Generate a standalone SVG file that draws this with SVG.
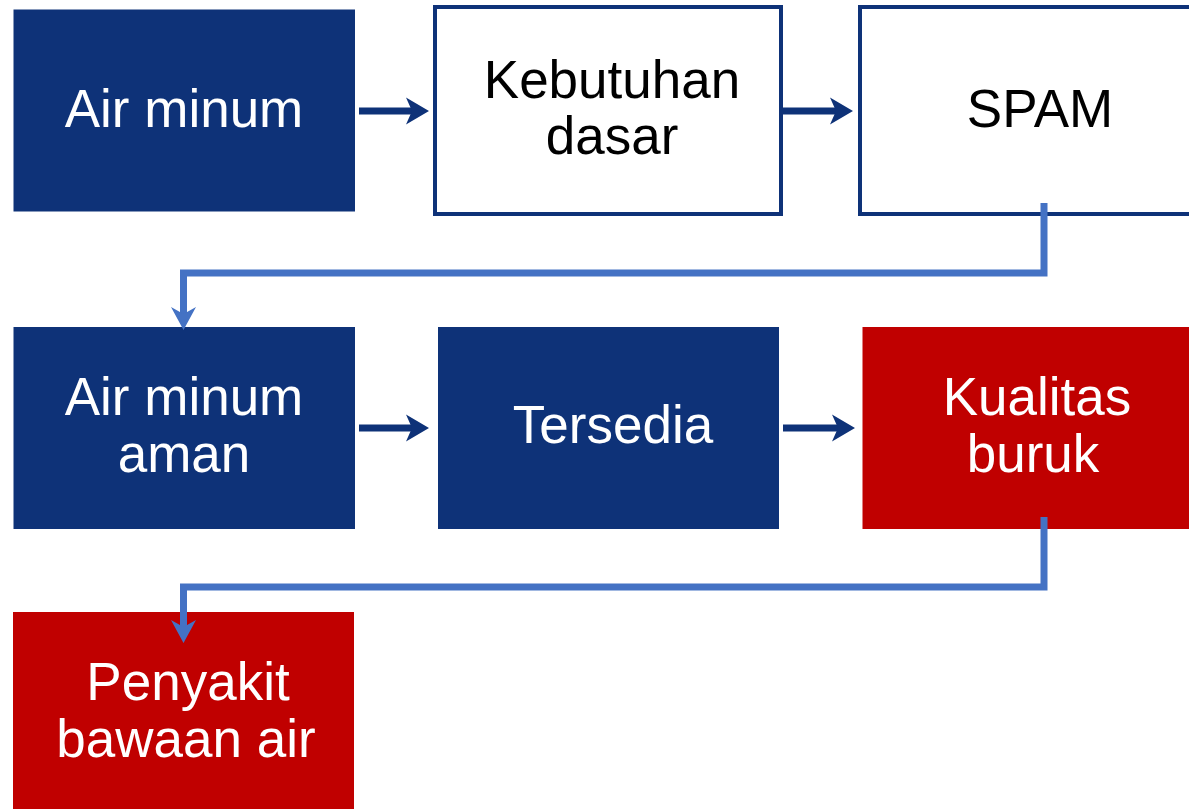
<svg xmlns="http://www.w3.org/2000/svg" width="1189" height="809" viewBox="0 0 1189 809">
<style>
.navy{fill:#0e3278}
.red{fill:#c00000}
.outline{fill:#ffffff;stroke:#0e3278;stroke-width:4}
.t{font-family:"Liberation Sans",Arial,sans-serif;font-size:53px;text-anchor:middle}
.w{fill:#ffffff}
.k{fill:#000000}
.arrow{stroke:#0e3278;stroke-width:7;fill:none}
.conn{stroke:#4472c4;stroke-width:7;fill:none}
</style>
<defs>
<marker id="ah" markerUnits="userSpaceOnUse" markerWidth="30" markerHeight="32" refX="0" refY="0" orient="auto" viewBox="-10 -16 30 32" overflow="visible">
<path d="M-6,-13.5 L17,0 L-6,13.5 L0,0 Z" fill="#0e3278"/>
</marker>
<marker id="ahb" markerUnits="userSpaceOnUse" markerWidth="30" markerHeight="32" refX="0" refY="0" orient="auto" viewBox="-10 -16 30 32" overflow="visible">
<path d="M-7,-12.5 L16,0 L-7,12.5 L0,0 Z" fill="#4472c4"/>
</marker>
</defs>
<g id="node-air-minum">
<rect class="navy" x="13.5" y="9.5" width="341.5" height="202"/>
<text class="t w" x="184" y="127">Air minum</text>
</g>
<g id="node-kebutuhan-dasar">
<rect class="outline" x="435" y="7" width="346" height="207"/>
<text class="t k" x="612" y="98">Kebutuhan</text>
<text class="t k" x="612" y="154">dasar</text>
</g>
<g id="node-spam">
<rect class="outline" x="860" y="7" width="340" height="207"/>
<text class="t k" x="1040" y="127">SPAM</text>
</g>
<g id="node-air-minum-aman">
<rect class="navy" x="13.5" y="327" width="341.5" height="202"/>
<text class="t w" x="184" y="415">Air minum</text>
<text class="t w" x="184" y="472">aman</text>
</g>
<g id="node-tersedia">
<rect class="navy" x="438" y="327" width="341" height="202"/>
<text class="t w" x="613" y="443">Tersedia</text>
</g>
<g id="node-kualitas-buruk">
<rect class="red" x="862.5" y="327" width="330" height="202"/>
<text class="t w" x="1037" y="415">Kualitas</text>
<text class="t w" x="1033" y="472">buruk</text>
</g>
<g id="node-penyakit">
<rect class="red" x="13" y="612" width="341" height="200"/>
<text class="t w" x="188" y="700">Penyakit</text>
<text class="t w" x="186" y="757">bawaan air</text>
</g>
<g id="connectors">
<line class="arrow" x1="359" y1="111" x2="412" y2="111" marker-end="url(#ah)"/>
<line class="arrow" x1="783" y1="111" x2="836" y2="111" marker-end="url(#ah)"/>
<line class="arrow" x1="359" y1="428" x2="412" y2="428" marker-end="url(#ah)"/>
<line class="arrow" x1="783" y1="428" x2="838" y2="428" marker-end="url(#ah)"/>
<path class="conn" d="M1044,203 L1044,273 L183.5,273 L183.5,314" marker-end="url(#ahb)"/>
<path class="conn" d="M1044,517 L1044,587 L183.5,587 L183.5,627" marker-end="url(#ahb)"/>
</g>
</svg>
